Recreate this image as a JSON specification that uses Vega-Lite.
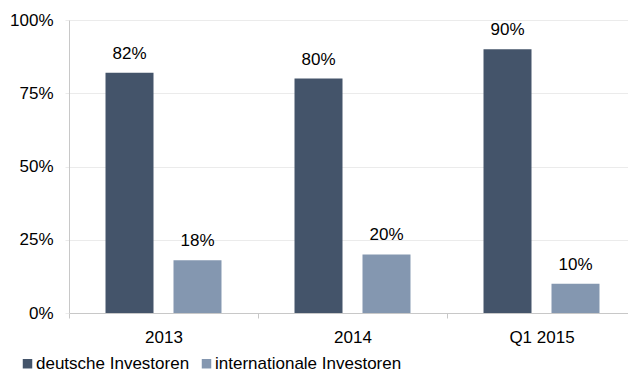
{
  "$schema": "https://vega.github.io/schema/vega-lite/v6.json",
  "width": 567,
  "height": 293,
  "autosize": {"type": "none"},
  "padding": {"left": 69, "top": 20, "right": 0, "bottom": 56},
  "background": "white",
  "config": {
    "view": {"stroke": null},
    "font": "Liberation Sans",
    "axis": {"labelFont": "Liberation Sans", "labelColor": "#000000", "labelFontSize": 17}
  },
  "data": {
    "values": [
      {"jahr": "2013", "gruppe": "deutsche Investoren", "wert": 0.82},
      {"jahr": "2013", "gruppe": "internationale Investoren", "wert": 0.18},
      {"jahr": "2014", "gruppe": "deutsche Investoren", "wert": 0.80},
      {"jahr": "2014", "gruppe": "internationale Investoren", "wert": 0.20},
      {"jahr": "Q1 2015", "gruppe": "deutsche Investoren", "wert": 0.90},
      {"jahr": "Q1 2015", "gruppe": "internationale Investoren", "wert": 0.10}
    ]
  },
  "encoding": {
    "x": {
      "field": "jahr", "type": "nominal", "title": null,
      "scale": {"paddingInner": 0, "paddingOuter": 0},
      "axis": {"labelAngle": 0, "tickBand": "extent", "domainColor": "#c8c8c8", "tickColor": "#c8c8c8", "tickSize": 5, "labelPadding": 11, "grid": false}
    },
    "xOffset": {
      "field": "gruppe", "type": "nominal",
      "scale": {"paddingInner": 0.294, "paddingOuter": 0.537}
    },
    "y": {
      "field": "wert", "type": "quantitative", "title": null,
      "scale": {"domain": [0, 1]},
      "axis": {"values": [0, 0.25, 0.5, 0.75, 1], "format": ".0%", "gridColor": "#ebebeb", "domainColor": "#c8c8c8", "tickColor": "#ebebeb", "tickSize": 4, "labelPadding": 12}
    }
  },
  "layer": [
    {
      "mark": {"type": "bar"},
      "encoding": {
        "color": {
          "field": "gruppe", "type": "nominal", "title": null,
          "scale": {"domain": ["deutsche Investoren", "internationale Investoren"], "range": ["#44546a", "#8497b0"]},
          "legend": {"orient": "none", "legendX": -50, "legendY": 335, "direction": "horizontal", "symbolType": "square", "symbolSize": 90, "symbolStrokeWidth": 0, "labelFontSize": 17, "labelFont": "Liberation Sans", "labelColor": "#000000", "labelLimit": 400, "columnPadding": 8, "labelOffset": 0}
        }
      }
    },
    {
      "mark": {"type": "text", "dy": -14, "baseline": "alphabetic", "fontSize": 17, "color": "#000000"},
      "encoding": {"text": {"field": "wert", "type": "quantitative", "format": ".0%"}}
    }
  ]
}
